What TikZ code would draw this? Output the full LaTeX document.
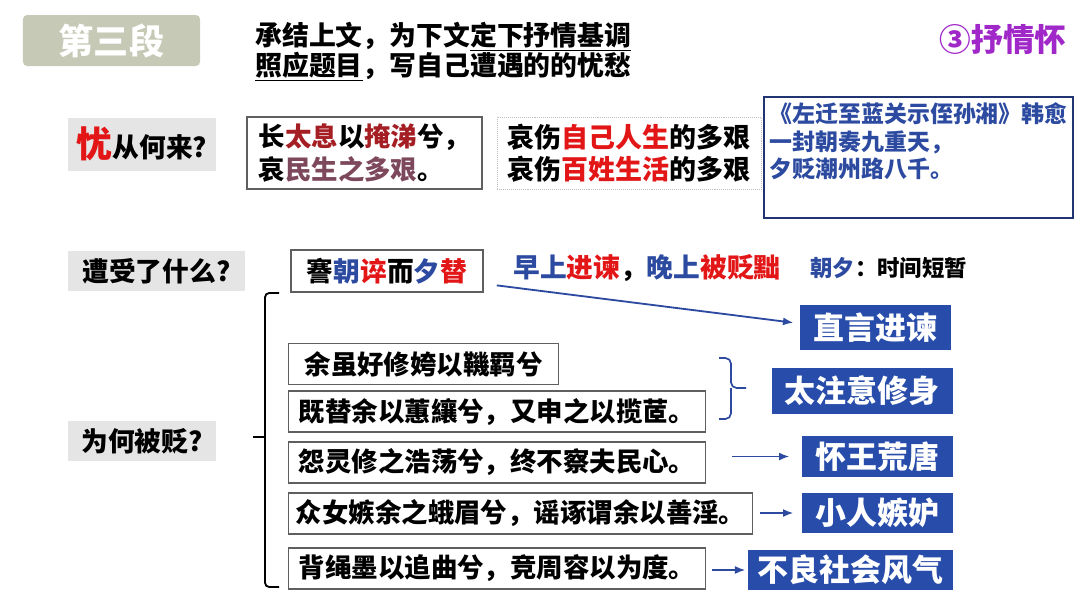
\documentclass[tikz,border=0pt]{standalone}
\usepackage{fontspec}
\newfontfamily\hei{Noto Sans CJK SC}
\usepackage{xcolor}
\definecolor{tagcol}{RGB}{197,201,182}
\definecolor{labcol}{RGB}{229,229,229}
\definecolor{poemblue}{RGB}{44,74,160}
\definecolor{boxblue}{RGB}{40,76,170}
\definecolor{hotred}{RGB}{226,22,22}
\definecolor{darkred}{RGB}{165,30,35}
\definecolor{mauve}{RGB}{125,72,92}
\definecolor{lilac}{RGB}{160,40,200}
\definecolor{edgegray}{RGB}{95,95,95}
\usetikzlibrary{positioning,arrows.meta,calc}
\newcommand{\fz}[2]{\hei\bfseries\fontsize{#1}{#2}\selectfont}
\newcommand{\rd}[1]{\textcolor{hotred}{#1}}
\newcommand{\bl}[1]{\textcolor{poemblue}{#1}}

\begin{document}
\begin{tikzpicture}[x=0.025cm,y=-0.025cm,
    lab/.style={fill=labcol,inner sep=0pt,minimum height=1cm,font=\fz{19}{22}},
    quote/.style={draw=edgegray,thick,inner sep=0pt,minimum height=1.025cm,
                  anchor=west,font=\fz{18.8}{22}},
    answer/.style={fill=boxblue,text=white,inner sep=0pt,anchor=east,
                   font=\fz{22}{26}},
    arr/.style={-{Latex[length=2.6mm,width=2mm]},poemblue,line width=1.3pt}]
  \useasboundingbox (0,0) rectangle (1080,608);

  % heading
  \node[fill=tagcol,rounded corners=3pt,minimum width=4.425cm,minimum height=1.275cm,
        text=white,font=\fz{25}{28}] (tag) at (111.5,40.5) {第三段};
  \node[anchor=west,align=left,inner sep=0pt,font=\fz{19.1}{21.5}] (head) at (255,52)
    {承结上文，为下文\underline{定下抒情基调}\\\underline{照应题目}，写自己遭遇的的忧愁};
  \node[text=lilac,inner sep=0pt,font=\fz{22.5}{26}] (theme) at (1003,40) {③抒情怀};

  % where the sorrow comes from
  \node[lab,minimum width=3.7cm,minimum height=1.325cm] (whence) at (142,144)
    {{\fontsize{25.6}{28}\selectfont\rd{忧}}从何来?};
  \node[draw=edgegray,thick,minimum width=5.875cm,minimum height=1.8cm,inner sep=0pt,
        align=left,font=\fz{18.8}{22.8}] (sigh) at (364.5,153)
    {长\textcolor{darkred}{太息}以\textcolor{darkred}{掩涕}兮，\\
     哀\textcolor{mauve}{民生之多艰}。};
  \node[draw=black!25,densely dotted,minimum width=6.6cm,minimum height=1.8cm,inner sep=0pt,
        align=left,font=\fz{19.2}{22.8}] (grief) at (629,153)
    {哀伤\rd{自己人生}的多艰\\哀伤\rd{百姓生活}的多艰};
  \node[draw=poemblue!70!black,thick,minimum width=7.725cm,minimum height=3.025cm] (poem)
    at (918.5,157.5) {};
  \node[below right=0.15cm and 0.15cm of poem.north west,anchor=north west,inner sep=0pt,
        align=left,text=poemblue,font=\fz{16.3}{19.6}] (poemtext)
    {《左迁至蓝关示侄孙湘》韩愈\\一封朝奏九重天，\\夕贬潮州路八千。};

  % what he suffered
  \node[lab,minimum width=4.425cm] (suffer) at (156.5,271) {遭受了什么?};
  \node[draw=edgegray,thick,inner sep=0pt,minimum width=4.8cm,minimum height=1.05cm,
        font=\fz{19}{22}] (jian) at (387,271) {謇\bl{朝}\rd{谇}而\bl{夕}\rd{替}};
  \node[anchor=west,inner sep=0pt,font=\fz{19}{22}] (gloss) at (513,268)
    {\bl{早上}\rd{进谏}，\bl{晚上}\rd{被贬黜}};
  \node[anchor=west,inner sep=0pt,font=\fz{15.9}{19}] (time) at (810,268)
    {\bl{朝夕}：时间短暂};
  \node[answer,minimum width=3.775cm,minimum height=1.125cm] (zhi) at (951,327.5) {直言进谏};

  % why he was banished
  \node[lab,minimum width=3.7cm] (why) at (142,441) {为何被贬?};
  \node[quote,minimum width=6.75cm] (q1) at (288,364) {余虽好修姱以鞿羁兮};
  \node[quote,minimum width=10.425cm] (q2) at (288,411.5) {既替余以蕙纕兮，又申之以揽茝。};
  \node[quote,minimum width=10.425cm] (q3) at (288,462.5) {怨灵修之浩荡兮，终不察夫民心。};
  \node[quote,minimum width=11.6cm] (q4) at (288,513.5) {众女嫉余之蛾眉兮，谣诼谓余以善淫。};
  \node[quote,minimum width=10.425cm] (q5) at (288,568.5) {背绳墨以追曲兮，竞周容以为度。};

  \node[answer,minimum width=4.525cm,minimum height=1.15cm] (self) at (953,391) {太注意修身};
  \node[answer,minimum width=3.775cm,minimum height=1.025cm] (king) at (953,456.5) {怀王荒唐};
  \node[answer,minimum width=3.775cm,minimum height=1cm] (envy) at (953,513) {小人嫉妒};
  \node[answer,minimum width=5.125cm,minimum height=1cm] (mores) at (953,570) {不良社会风气};

  % brackets
  \coordinate (brtop) at (279,293);
  \coordinate (brbot) at (279,587);
  \coordinate (brtip) at (253,437);
  \draw[line width=1.3pt,rounded corners=3pt] (brtop) -| (265,437) |- (brbot);
  \draw[line width=1.3pt] (265,437) -- (brtip);
  \draw[poemblue,line width=1.2pt,rounded corners=4pt]
    (719,358) -| (731,388) -- (746,388) (731,388) |- (719,419);

  % arrows
  \draw[arr] ([xshift=0.33cm,yshift=0.18cm]jian.south east) -- ([xshift=-0.15cm,yshift=0.12cm]zhi.west);
  \draw[arr,shorten <=0.65cm,shorten >=0.3cm] (q3.east |- king.west) -- (king.west);
  \draw[arr,shorten <=0.18cm,shorten >=0.2cm] (q4.east |- envy.west) -- (envy.west);
  \draw[arr,shorten <=0.15cm,shorten >=0.05cm] (q5.east |- mores.west) -- (mores.west);
\end{tikzpicture}
\end{document}
